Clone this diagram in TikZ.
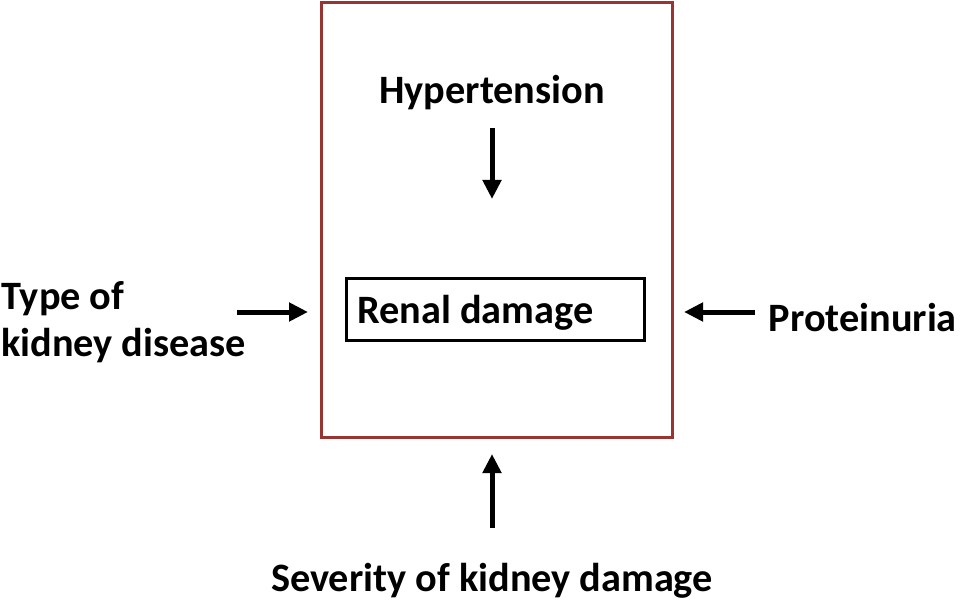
\documentclass[tikz,border=0pt]{standalone}
\usepackage{fontspec}
\setmainfont{Carlito}
\usetikzlibrary{arrows.meta}
\definecolor{framered}{RGB}{152,52,50}
\tikzset{
  lbl/.style={font=\fontsize{40.3}{47}\selectfont\bfseries, inner sep=0pt, text=black},
  arr/.style={line width=5pt, -{Triangle[length=19pt,width=18pt]}},
}
\begin{document}
\begin{tikzpicture}[x=1pt,y=-1pt]
\useasboundingbox (0,0) rectangle (960,601);
% outer frame
\node[draw=framered, line width=3pt, minimum width=351pt, minimum height=434pt, inner sep=0pt] (frame) at (496.5,220) {};
% renal damage box
\node[draw=black, line width=3pt, minimum width=298pt, minimum height=61pt, inner sep=0pt] (renal) at (495,309.5) {};
\node[lbl, anchor=west] (renaltxt) at (357,313) {Renal damage};
% labels
\node[lbl] (hyper) at (492,93) {Hypertension};
\node[lbl, anchor=west, align=left] (type) at (1,322) {Type of\\kidney disease};
\node[lbl, anchor=east] (prot) at (957,318) {Proteinuria};
\node[lbl] (sev) at (492,581) {Severity of kidney damage};
% arrow ends
\coordinate (h1) at (492,128);
\coordinate (h2) at (492,199);
\coordinate (l1) at (237,312);
\coordinate (l2) at (308,312);
\coordinate (r1) at (755,312);
\coordinate (r2) at (684,312);
\coordinate (b1) at (492,528);
\coordinate (b2) at (492,454);
\draw[arr] (h1) -- (h2);
\draw[arr] (l1) -- (l2);
\draw[arr] (r1) -- (r2);
\draw[arr] (b1) -- (b2);
\end{tikzpicture}
\end{document}
